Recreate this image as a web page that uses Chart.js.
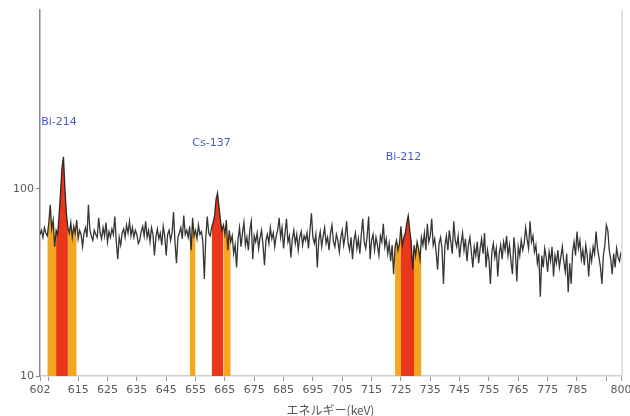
<!DOCTYPE html>
<html>
<head>
<meta charset="utf-8">
<script src="https://cdn.jsdelivr.net/npm/chart.js@4.4.1/dist/chart.umd.min.js"></script>
<style>
  html, body { margin: 0; padding: 0; background: #fff; }
  #wrap { width: 630px; height: 416px; }
</style>
</head>
<body>
<div id="wrap"><canvas id="spectrum"></canvas></div>
<script>
// チャンネル (keV)
const keVStart = 602;
const keVStep = 0.5;

// 計数 (602.0 ～ 800.0 keV, 0.5 keV 毎)
const counts = [
  57, 60, 55, 62, 58, 56, 66, 82, 61, 68, 49, 60, 57, 72, 96, 130, 148, 100, 74, 62,
  58, 66, 55, 63, 58, 68, 54, 60, 57, 49, 58, 62, 55, 82, 60, 56, 53, 60, 57, 55,
  70, 58, 54, 62, 56, 66, 52, 59, 55, 61, 57, 71, 52, 42, 55, 50, 58, 61, 55, 64,
  58, 67, 56, 62, 55, 60, 57, 51, 53, 59, 63, 56, 67, 55, 60, 52, 62, 57, 44, 55,
  61, 54, 58, 50, 63, 56, 44, 57, 60, 53, 58, 75, 52, 40, 55, 58, 62, 54, 72, 57,
  60, 55, 63, 47, 70, 56, 60, 54, 64, 57, 59, 52, 33, 55, 71, 58, 56, 62, 66, 72,
  88, 95, 80, 68, 60, 64, 57, 68, 47, 60, 52, 56, 45, 50, 38, 54, 62, 49, 58, 66,
  50, 55, 47, 60, 67, 42, 56, 52, 58, 48, 55, 60, 50, 39, 53, 57, 51, 62, 54, 58,
  49, 56, 60, 70, 55, 62, 48, 58, 69, 52, 56, 43, 54, 60, 51, 57, 47, 55, 59, 50,
  56, 53, 58, 48, 60, 74, 55, 51, 57, 38, 53, 59, 49, 56, 62, 51, 55, 47, 58, 64,
  52, 49, 57, 53, 46, 55, 60, 50, 56, 67, 51, 47, 55, 42, 53, 58, 48, 54, 45, 57,
  69, 52, 48, 56, 71, 42, 53, 57, 47, 55, 50, 44, 56, 52, 65, 49, 54, 45, 51, 41,
  50, 35, 49, 53, 47, 51, 63, 50, 55, 58, 66, 72, 60, 52, 37, 50, 44, 52, 48, 42,
  55, 50, 58, 47, 65, 52, 56, 69, 50, 54, 46, 37, 51, 55, 48, 31, 50, 56, 47, 60,
  52, 45, 67, 53, 49, 56, 43, 51, 58, 47, 54, 41, 50, 55, 46, 38, 49, 44, 52, 40,
  48, 54, 45, 58, 38, 47, 42, 31, 46, 51, 43, 48, 34, 45, 50, 42, 52, 47, 56, 44,
  50, 41, 35, 55, 46, 32, 49, 44, 53, 47, 51, 62, 54, 48, 67, 52, 56, 46, 50, 40,
  45, 26.5, 44, 38, 48, 43, 36, 46, 41, 49, 34, 44, 40, 47, 38, 43, 49, 41, 36, 45,
  28, 40, 31, 46, 52, 44, 59, 48, 53, 42, 47, 39, 50, 44, 34, 46, 41, 49, 45, 59,
  48, 43, 38, 31, 44, 50, 64, 60, 47, 42, 35, 45, 38, 48, 43, 41, 46
];

// 関心領域 (keV)
const bgRegions = [[604.5, 614.5], [653, 655], [664.5, 667], [723, 732]];
const peakRegions = [[607.5, 611.5], [660.5, 664.5], [725, 729.5]];

// 核種ラベル
const nuclides = ["Bi-214", "Cs-137", "Bi-212"];
const labelKeV = [602.4, 653.9, 719.8];
const labelCounts = [228, 176, 148];

// 目盛
const xTicks = [602, 605, 615, 625, 635, 645, 655, 665, 675, 685, 695, 705, 715, 725, 735, 745, 755, 765, 775, 785, 795, 800];
const xHidden = [605, 795];
const yTicks = [10, 100];

const points = counts.map((c, i) => ({ x: keVStart + i * keVStep, y: c }));

function regionData(r) {
  return points.filter(p => p.x >= r[0] && p.x <= r[1]);
}

const datasets = [{
  label: "spectrum",
  data: points,
  borderColor: "rgba(25,25,25,0.88)",
  borderWidth: 1.3,
  pointRadius: 0,
  tension: 0,
  fill: false,
  order: 0
}];

peakRegions.forEach(r => {
  datasets.push({
    data: regionData(r),
    borderWidth: 0,
    pointRadius: 0,
    backgroundColor: "#e9371d",
    fill: "start",
    order: 1
  });
});

bgRegions.forEach(r => {
  datasets.push({
    data: regionData(r),
    borderWidth: 0,
    pointRadius: 0,
    backgroundColor: "#f3a61f",
    fill: "start",
    order: 2
  });
});

const extras = {
  id: "extras",
  afterDraw(chart) {
    const { ctx, chartArea, scales } = chart;
    ctx.save();
    // 右枠
    ctx.strokeStyle = "#e2e2e2";
    ctx.lineWidth = 2;
    ctx.beginPath();
    ctx.moveTo(chartArea.right + 1, chartArea.top);
    ctx.lineTo(chartArea.right + 1, chartArea.bottom);
    ctx.stroke();
    // 核種ラベル
    ctx.font = "11px 'DejaVu Sans'";
    ctx.fillStyle = "#4a5bc4";
    ctx.textAlign = "left";
    ctx.textBaseline = "middle";
    nuclides.forEach((n, i) => {
      ctx.fillText(n, scales.x.getPixelForValue(labelKeV[i]), scales.y.getPixelForValue(labelCounts[i]));
    });
    // 軸タイトル
    ctx.font = "12px 'Noto Sans CJK JP'";
    ctx.fillStyle = "#555";
    ctx.textAlign = "center";
    ctx.fillText("エネルギー(keV)", (chartArea.left + chartArea.right) / 2, 410);
    ctx.restore();
  }
};

new Chart(document.getElementById("spectrum"), {
  type: "line",
  data: { datasets },
  options: {
    responsive: true,
    maintainAspectRatio: false,
    animation: false,
    layout: { padding: { top: 10, right: 9, left: 0, bottom: 0 } },
    plugins: { legend: { display: false }, tooltip: { enabled: false } },
    scales: {
      x: {
        type: "linear",
        min: 602,
        max: 800,
        afterBuildTicks: axis => { axis.ticks = xTicks.map(v => ({ value: v })); },
        afterFit: scale => {
          scale.height = 40;
          scale.paddingLeft = 0;
          scale.paddingRight = 0;
        },
        ticks: {
          autoSkip: false,
          maxRotation: 0,
          padding: 3,
          color: "#5a5a55",
          font: { family: "DejaVu Sans", size: 11 },
          callback: v => xHidden.includes(v) ? "" : v
        },
        grid: { drawOnChartArea: false, tickLength: 5, color: "#999" },
        border: { color: "#cfcfcf", width: 1.5 }
      },
      y: {
        type: "logarithmic",
        min: 10,
        max: 900,
        afterBuildTicks: axis => { axis.ticks = yTicks.map(v => ({ value: v })); },
        afterFit: scale => { scale.width = 40; },
        ticks: {
          padding: 2,
          color: "#5a5a55",
          font: { family: "DejaVu Sans", size: 11 },
          callback: v => String(v)
        },
        grid: { drawOnChartArea: false, tickLength: 4, color: "#888" },
        border: { color: "#8a8a8a", width: 1.5 }
      }
    }
  },
  plugins: [extras]
});
</script>
</body>
</html>
